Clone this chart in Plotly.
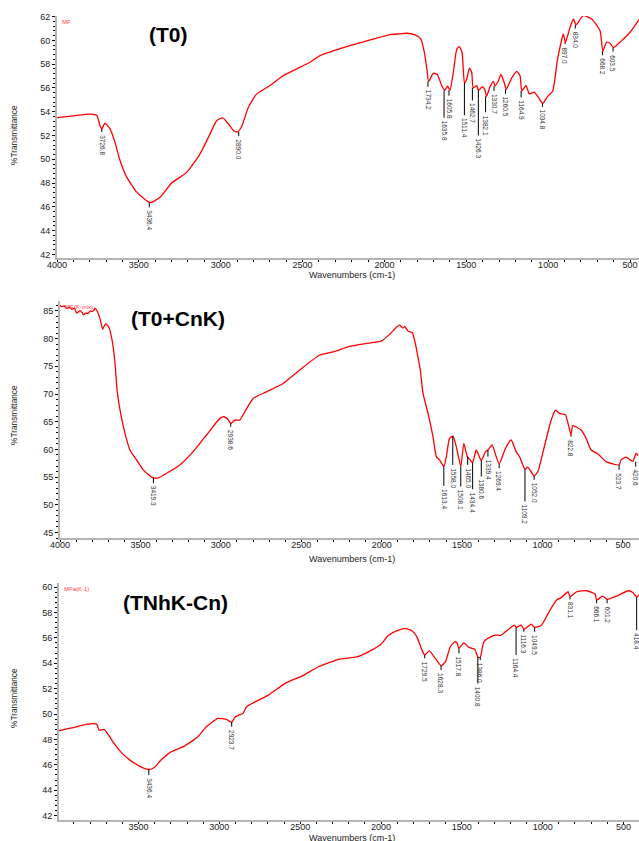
import plotly.graph_objects as go

# ---------------- data ----------------
# Panel 1 : (T0)
wn1 = [4000, 3900, 3798, 3757, 3737, 3726, 3707, 3676, 3646, 3615, 3574, 3513, 3432, 3371, 3300,
       3208, 3126, 3065, 3024, 2988, 2953, 2923, 2898, 2872, 2831, 2780, 2699, 2618, 2536, 2455,
       2393, 2210, 2057, 1966, 1905, 1864, 1813, 1778, 1758, 1742, 1730, 1701, 1677, 1650, 1632,
       1614, 1600, 1579, 1558, 1542, 1526, 1511, 1497, 1481, 1467, 1458, 1436, 1426, 1402, 1388,
       1376, 1355, 1334, 1325, 1304, 1288, 1269, 1256, 1222, 1192, 1172, 1161, 1135, 1115, 1086,
       1060, 1033, 999, 972, 944, 907, 895, 866, 846, 830, 785, 734, 683, 666, 643, 622, 602,
       551, 500, 449, 430]
tr1 = [53.5, 53.65, 53.8, 53.7, 52.8, 52.56, 53.03, 52.56, 51.44, 49.9, 48.5, 47.24, 46.35, 46.8, 48.0,
       48.9, 50.46, 52.14, 53.26, 53.49, 52.98, 52.42, 52.3, 52.76, 54.38, 55.5, 56.2, 57.04, 57.6, 58.16,
       58.72, 59.56, 60.15, 60.49, 60.55, 60.6, 60.46, 60.13, 59.14, 57.74, 56.55, 57.24, 57.13, 56.2, 55.8,
       56.15, 55.8, 57.32, 59.28, 59.48, 59.0, 56.4, 56.76, 57.66, 57.32, 56.0, 56.2, 55.8, 56.1, 55.9,
       55.3, 56.1, 56.56, 56.15, 56.6, 57.13, 56.48, 55.9, 56.85, 57.4, 57.04, 55.75, 56.2, 55.5, 55.64,
       55.22, 54.7, 55.36, 55.72, 58.3, 60.55, 59.8, 61.1, 61.8, 61.3, 62.08, 61.8, 60.8, 59.1, 59.84, 59.76, 59.4,
       59.98, 60.68, 61.66, 62.0]
pk1 = ["3726.8", "3436.4", "2890.0", "1734.2", "1635.8", "1605.8", "1511.4", "1462.7", "1426.3",
       "1382.1", "1330.7", "1260.5", "1164.9", "1034.8", "897.0", "834.0", "668.2", "603.5"]
pk1_top = [52.56, 46.35, 52.3, 56.55, 55.8, 55.8, 56.4, 56.0, 55.8, 55.3, 56.15, 55.9, 55.75, 54.7,
           59.8, 61.3, 59.1, 59.4]
pk1_end = [52.3, 45.95, 51.95, 56.1, 53.5, 55.35, 53.7, 54.95, 52.0, 53.95, 55.75, 55.5, 55.2, 54.4,
           59.7, 61.0, 58.75, 59.05]

# Panel 2 : (T0+CnK)
wn2 = [4000, 3990, 3975, 3958, 3940, 3927, 3910, 3896, 3876, 3862, 3855, 3840, 3824, 3812, 3803,
       3790, 3783, 3768, 3752, 3735, 3722, 3714, 3700, 3694, 3673, 3658, 3644, 3623, 3596, 3565,
       3524, 3483, 3430, 3410, 3389, 3337, 3255, 3172, 3089, 3006, 2981, 2955, 2938, 2913, 2882,
       2851, 2799, 2716, 2613, 2509, 2385, 2300, 2200, 2100, 2000, 1950, 1910, 1888, 1868, 1857,
       1837, 1810, 1789, 1775, 1760, 1743, 1722, 1702, 1681, 1660, 1640, 1613, 1598, 1578, 1557,
       1536, 1508, 1489, 1468, 1450, 1434, 1412, 1381, 1354, 1339, 1313, 1288, 1269, 1230, 1195,
       1164, 1143, 1109, 1092, 1052, 1029, 986, 946, 919, 894, 857, 823, 812, 760, 729, 698, 656,
       605, 524, 511, 480, 439, 418, 405]
tr2 = [86.0, 85.8, 85.9, 85.5, 85.7, 85.3, 85.5, 84.6, 85.05, 84.7, 84.3, 84.6, 84.58, 85.0, 84.88,
       85.1, 85.5, 84.9, 83.7, 81.7, 82.5, 82.65, 82.2, 81.9, 79.2, 75.6, 70.4, 66.5, 62.9, 59.9,
       58.1, 56.3, 55.0, 54.8, 54.85, 55.7, 57.2, 59.6, 62.6, 65.6, 65.9, 65.4, 64.7, 65.3, 65.3,
       66.8, 69.2, 70.4, 71.9, 74.35, 77.05, 77.6, 78.6, 79.1, 79.6, 80.8, 82.0, 82.5, 81.9, 82.2,
       81.4, 81.1, 78.9, 76.8, 74.4, 70.1, 67.7, 65.3, 62.3, 58.7, 58.1, 56.9, 58.7, 62.0, 62.4,
       60.5, 56.9, 61.1, 58.7, 58.1, 57.6, 59.9, 58.0, 59.6, 59.9, 60.8, 58.7, 57.4, 60.2, 61.7,
       59.6, 58.7, 56.4, 56.8, 55.2, 56.0, 60.8, 65.3, 67.1, 66.5, 66.2, 62.6, 64.3, 63.5, 62.0, 59.9,
       59.2, 57.8, 57.2, 58.1, 58.6, 57.8, 59.3, 58.9]
pk2 = ["3419.3", "2938.6", "1613.4", "1558.0", "1508.1", "1465.0", "1434.4", "1380.6", "1339.4",
       "1269.4", "1109.2", "1052.0", "822.8", "523.7", "420.6"]
pk2_top = [54.85, 64.7, 56.9, 62.4, 56.9, 58.7, 57.6, 58.0, 59.9, 57.4, 56.4, 55.2, 62.6, 57.2, 57.8]
pk2_end = [53.9, 64.1, 53.4, 57.2, 53.3, 57.2, 52.8, 55.1, 58.7, 56.6, 50.6, 54.5, 62.3, 56.3, 56.9]

# Panel 3 : (TNhK-Cn)
wn3 = [3992, 3899, 3817, 3759, 3744, 3713, 3672, 3651, 3609, 3547, 3485, 3436, 3402, 3361, 3299,
       3216, 3133, 3081, 3008, 2957, 2924, 2901, 2853, 2832, 2780, 2697, 2593, 2490, 2386, 2264,
       2150, 2078, 2000, 1954, 1892, 1850, 1809, 1778, 1747, 1730, 1701, 1664, 1628, 1602, 1571,
       1544, 1530, 1518, 1488, 1457, 1420, 1401, 1386, 1364, 1322, 1291, 1260, 1205, 1174, 1164,
       1132, 1116, 1070, 1050, 1007, 966, 914, 883, 842, 831, 790, 728, 676, 666, 628, 601, 542,
       471, 440, 418, 404]
tr3 = [48.68, 48.94, 49.2, 49.2, 48.73, 48.79, 48.08, 47.68, 47.0, 46.31, 45.84, 45.63, 45.79, 46.37, 47.02,
       47.47, 48.2, 49.0, 49.65, 49.57, 49.35, 49.78, 50.05, 50.57, 50.96, 51.49, 52.41, 52.99, 53.72, 54.3,
       54.5, 54.9, 55.5, 56.2, 56.61, 56.74, 56.56, 56.08, 55.04, 54.64, 54.98, 54.38, 53.8, 54.11, 55.3,
       55.69, 55.6, 55.17, 55.61, 55.25, 55.09, 54.5, 54.46, 55.69, 56.08, 56.22, 56.2, 56.74, 57.0, 56.82,
       57.0, 56.67, 57.08, 56.82, 57.0, 57.93, 58.98, 59.19, 59.63, 59.24, 59.63, 59.71, 59.45, 58.98, 59.29, 59.03, 59.29,
       59.71, 59.55, 59.2, 59.4]
pk3 = ["3436.4", "2923.7", "1729.5", "1628.3", "1517.8", "1400.8", "1386.0", "1164.4", "1116.3",
       "1049.5", "831.1", "666.1", "601.2", "418.4"]
pk3_top = [45.63, 49.35, 54.64, 53.8, 55.17, 54.5, 54.46, 56.82, 56.67, 56.82, 59.24, 58.98, 59.03, 59.2]
pk3_end = [45.2, 49.0, 54.38, 53.45, 54.77, 52.4, 54.25, 54.64, 56.48, 56.48, 59.03, 58.72, 58.72, 56.6]

panels = [
    dict(title="(T0)", tag="MF", wn=wn1, tr=tr1, pk=pk1, top=pk1_top, end=pk1_end,
         xr=[4000, 445], yr=[41.7, 62.05], xd=[57/639, 1.0], yd=[1-258/841, 1-16/841],
         dt=2, mdt=0.4, xt=[4000, 3500, 3000, 2500, 2000, 1500, 1000, 500],
         ty=34, tx=168, tsy=275, yty=135),
    dict(title="(T0+CnK)", tag="MF(K-mix)", wn=wn2, tr=tr2, pk=pk2, top=pk2_top, end=pk2_end,
         xr=[4000, 400], yr=[44.0, 86.8], xd=[60/639, 1.0], yd=[1-538/841, 1-301/841],
         dt=5, mdt=1, xt=[4000, 3500, 3000, 2500, 2000, 1500, 1000, 500],
         ty=318, tx=178, tsy=559, yty=415),
    dict(title="(TNhK-Cn)", tag="MFa(K-1)", wn=wn3, tr=tr3, pk=pk3, top=pk3_top, end=pk3_end,
         xr=[3992, 404], yr=[41.65, 60.32], xd=[59/639, 1.0], yd=[1-820/841, 1-583/841],
         dt=2, mdt=0.4, xt=[3500, 3000, 2500, 2000, 1500, 1000, 500],
         ty=602, tx=175, tsy=838, yty=698),
]

W, H = 639, 841
fig = go.Figure()
annotations = []
font_fam = "Liberation Sans, Arial, sans-serif"

for i, p in enumerate(panels, start=1):
    xa = "x" if i == 1 else f"x{i}"
    ya = "y" if i == 1 else f"y{i}"
    fig.add_trace(go.Scatter(x=p["wn"], y=p["tr"], mode="lines", xaxis=xa, yaxis=ya,
                             line=dict(color="#ff0000", width=1.3, shape="spline", smoothing=0.5),
                             hoverinfo="skip", showlegend=False))
    # peak marker lines
    lx, ly = [], []
    for lab, t, e in zip(p["pk"], p["top"], p["end"]):
        w = float(lab)
        lx += [w, w, None]
        ly += [t, e, None]
        annotations.append(dict(x=w, y=e, xref=xa, yref=ya, text=lab, showarrow=False,
                                textangle=90, xanchor="center", yanchor="top", yshift=-1,
                                font=dict(size=6.5, color="#333333", family=font_fam)))
    fig.add_trace(go.Scatter(x=lx, y=ly, mode="lines", xaxis=xa, yaxis=ya,
                             line=dict(color="black", width=1), hoverinfo="skip", showlegend=False))

    axis_common = dict(showgrid=False, zeroline=False, showline=True, linecolor="#b4b4b4",
                       linewidth=2, ticks="outside", tickcolor="black", ticklen=3, tickwidth=1,
                       automargin=False,
                       tickfont=dict(size=9, color="#222222", family=font_fam))
    fig.update_layout(**{
        ("xaxis" if i == 1 else f"xaxis{i}"): dict(
            axis_common, domain=p["xd"], range=p["xr"], anchor=ya, ticklen=2,
            ticklabelstandoff=-5,
            tickvals=p["xt"], ticktext=[str(v) for v in p["xt"]],
            minor=dict(dtick=100, tick0=0, ticks="outside", ticklen=2, tickcolor="black")),
        ("yaxis" if i == 1 else f"yaxis{i}"): dict(
            axis_common, domain=p["yd"], range=p["yr"], anchor=xa, dtick=p["dt"], tick0=0,
            minor=dict(dtick=p["mdt"], tick0=0, ticks="outside", ticklen=2, tickcolor="black")),
    })
    # titles and texts
    annotations.append(dict(x=p["tx"] / W, y=1 - p["ty"] / H, xref="paper", yref="paper",
                            text=f"<b>{p['title']}</b>", showarrow=False, xanchor="center",
                            yanchor="middle", font=dict(size=21, color="black", family=font_fam)))
    annotations.append(dict(x=(p["xd"][0] + 3 / W), y=p["yd"][1] - 1 / H, xref="paper", yref="paper",
                            text=p["tag"], showarrow=False, xanchor="left", yanchor="top",
                            font=dict(size=6, color="#ff4444", family=font_fam)))
    annotations.append(dict(x=352 / W, y=1 - p["tsy"] / H, xref="paper", yref="paper",
                            text="Wavenumbers (cm-1)", showarrow=False, xanchor="center",
                            yanchor="middle", font=dict(size=9, color="#222222", family=font_fam)))
    annotations.append(dict(x=14 / W, y=1 - p["yty"] / H, xref="paper", yref="paper",
                            text="%Transmittance", showarrow=False, textangle=-90,
                            xanchor="center", yanchor="middle",
                            font=dict(size=8.3, color="#222222", family=font_fam)))

fig.update_layout(width=W, height=H,
                  margin=dict(l=0, r=0, t=0, b=0, pad=0, autoexpand=False),
                  paper_bgcolor="white", plot_bgcolor="white", annotations=annotations,
                  showlegend=False)
fig.write_html("out.html", config={"displayModeBar": False, "staticPlot": True},
               post_script="document.body.style.margin='0px';")
